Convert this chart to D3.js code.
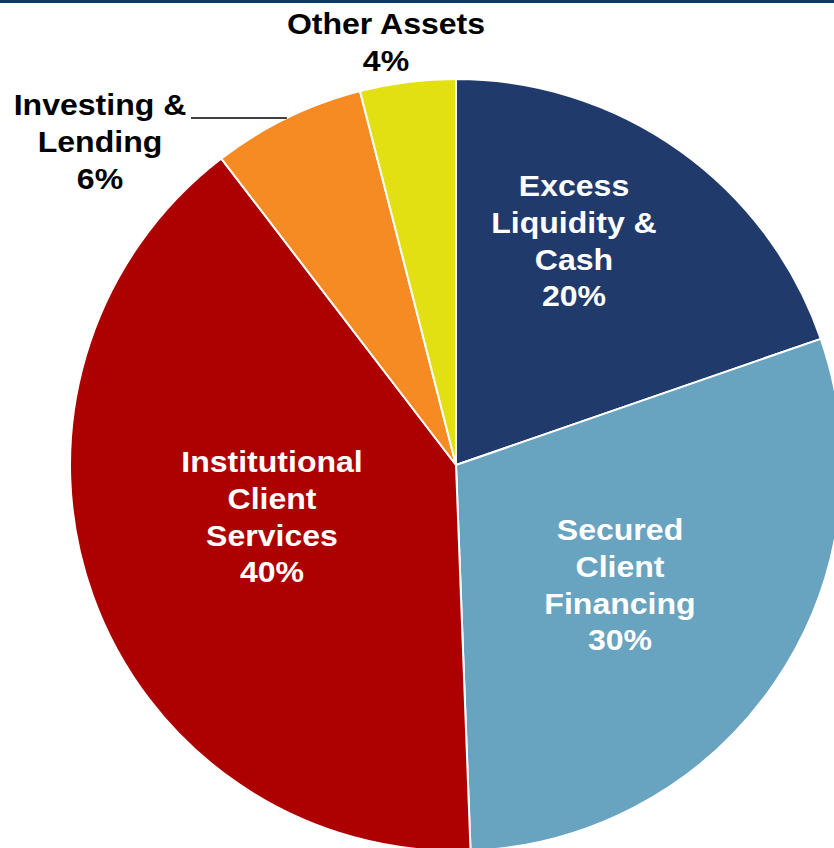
<!DOCTYPE html>
<html>
<head>
<meta charset="utf-8">
<script src="https://cdn.jsdelivr.net/npm/d3@7"></script>
<style>
  body { margin: 0; background: #fff; }
  svg { display: block; }
  text { font-family: "Liberation Sans", Arial, sans-serif; font-weight: bold; }
</style>
</head>
<body>
<div class="chart"></div>
<script>
// slice data (clockwise from 12 o'clock)
var categories = ["Excess Liquidity & Cash", "Secured Client Financing", "Institutional Client Services", "Investing & Lending", "Other Assets"];
var values = [19.7, 29.7, 40.2, 6.4, 4.0];
var pctLabels = ["20%", "30%", "40%", "6%", "4%"];
var labelLines = [
  ["Excess", "Liquidity &", "Cash", "20%"],
  ["Secured", "Client", "Financing", "30%"],
  ["Institutional", "Client", "Services", "40%"],
  ["Investing &", "Lending", "6%"],
  ["Other Assets", "4%"]
];
var colors = ["#213a6c", "#68a3c0", "#ad0000", "#f58b22", "#e2e012"];

var width = 834, height = 848;
var cx = 456, cy = 465, radius = 386;

// label anchor (first line baseline) and colour
var labelPos = [
  {x: 574, y: 196, fill: "#fff"},
  {x: 620, y: 540, fill: "#fff"},
  {x: 272, y: 472, fill: "#fff"},
  {x: 100, y: 115, fill: "#000"},
  {x: 386, y: 34, fill: "#000"}
];
var lineH = 36.8;

var svg = d3.select(".chart").append("svg")
    .attr("width", width)
    .attr("height", height);

svg.append("rect")
    .attr("x", 0).attr("y", 0)
    .attr("width", width).attr("height", 3)
    .attr("fill", "#0b3a68");

var pie = d3.pie().sort(null).value(function(d) { return d; });
var arc = d3.arc().innerRadius(0).outerRadius(radius);
var arcs = pie(values);

var g = svg.append("g").attr("transform", "translate(" + cx + "," + cy + ")");

g.selectAll("path.slice")
    .data(arcs)
  .enter().append("path")
    .attr("class", "slice")
    .attr("d", arc)
    .attr("fill", function(d, i) { return colors[i]; })
    .attr("stroke", "#fff")
    .attr("stroke-width", 2)
    .attr("stroke-linejoin", "round");

// leader line for Investing & Lending
var yLead = 118;
var xEdge = cx - Math.sqrt(radius * radius - (cy - yLead) * (cy - yLead));
svg.append("line")
    .attr("x1", 191).attr("y1", yLead)
    .attr("x2", xEdge).attr("y2", yLead)
    .attr("stroke", "#000")
    .attr("stroke-width", 1.3);

labelLines.forEach(function(lines, i) {
  var t = svg.append("g")
      .attr("transform", "translate(" + labelPos[i].x + ",0) scale(1.105,1)")
    .append("text")
      .attr("text-anchor", "middle")
      .attr("font-size", "29px")
      .attr("fill", labelPos[i].fill);
  lines.forEach(function(s, j) {
    t.append("tspan")
      .attr("x", 0)
      .attr("y", labelPos[i].y + j * lineH)
      .text(s);
  });
});
</script>
</body>
</html>
